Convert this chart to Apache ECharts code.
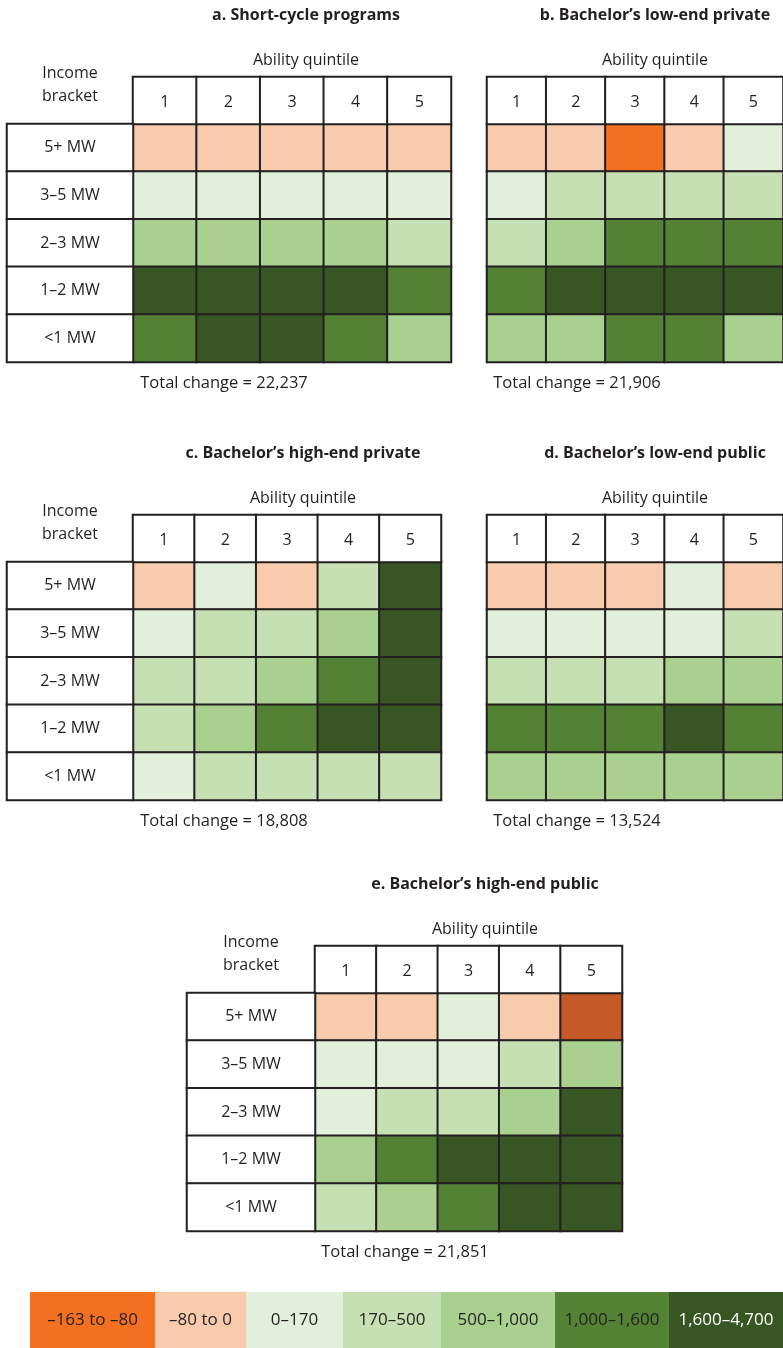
<!DOCTYPE html>
<html>
<head>
<meta charset="utf-8">
<script src="https://cdn.jsdelivr.net/npm/echarts@6/dist/echarts.min.js"></script>
<style>
  html, body { margin: 0; padding: 0; background: #fff; }
  #chart { width: 783px; height: 1348px; }
</style>
</head>
<body>
<div id="chart"></div>
<script>
// ---------- data ----------
const quintiles = ['1', '2', '3', '4', '5'];
const brackets = ['5+ MW', '3–5 MW', '2–3 MW', '1–2 MW', '<1 MW'];

const titles = [
  'a. Short-cycle programs',
  'b. Bachelor’s low-end private',
  'c. Bachelor’s high-end private',
  'd. Bachelor’s low-end public',
  'e. Bachelor’s high-end public'
];
const totals = [22237, 21906, 18808, 13524, 21851];

// rows: 5+ MW, 3–5, 2–3, 1–2, <1 ; columns: ability quintile 1..5 (estimated values)
const shortCycle = [
  [-30, -25, -20, -15, -10],
  [120, 110, 100, 90, 60],
  [700, 650, 600, 550, 400],
  [2200, 2000, 1900, 1700, 1200],
  [1300, 1700, 1650, 1100, 600]
];
const lowPrivate = [
  [-40, -35, -120, -20, 50],
  [120, 300, 350, 280, 250],
  [300, 700, 1300, 1250, 1100],
  [1400, 2400, 2600, 2100, 1900],
  [800, 700, 1200, 1100, 600]
];
const highPrivate = [
  [-30, 60, -20, 250, 1900],
  [100, 300, 400, 800, 2100],
  [350, 300, 700, 1400, 2300],
  [300, 650, 1300, 2000, 2500],
  [110, 250, 280, 300, 260]
];
const lowPublic = [
  [-40, -30, -25, 40, -10],
  [90, 110, 120, 140, 200],
  [250, 300, 320, 600, 650],
  [1100, 1200, 1300, 1700, 1150],
  [600, 650, 700, 750, 700]
];
const highPublic = [
  [-50, -40, 30, -30, -180],
  [80, 90, 100, 250, 600],
  [120, 300, 350, 700, 2000],
  [800, 1300, 1800, 2400, 2800],
  [300, 700, 1200, 2200, 2600]
];
const panelValues = [shortCycle, lowPrivate, highPrivate, lowPublic, highPublic];

const legendLabels = ['–163 to –80', '–80 to 0', '0–170', '170–500', '500–1,000', '1,000–1,600', '1,600–4,700'];
const binEdges = [-163, -80, 0, 170, 500, 1000, 1600, 4700];

// ---------- styles / layout ----------
const binColors = ['#F37021', '#F8CBAD', '#E2EFDA', '#C6E0B4', '#A9D08E', '#548235', '#375623'];
const belowColor = '#C55A28';
const lineColor = '#231F20';
const textColor = '#231F20';
const FONT = "'Open Sans', sans-serif";

const layout = [
  { x0: 133, w: 318, y0: 77,  label: { left: 7,   w: 126 }, cx: 306, tx: 224 },
  { x0: 487, w: 305, y0: 77,  label: null,                   cx: 655, tx: 577 },
  { x0: 133, w: 308, y0: 515, label: { left: 7,   w: 126 }, cx: 303, tx: 224 },
  { x0: 487, w: 305, y0: 515, label: null,                   cx: 655, tx: 577 },
  { x0: 315, w: 307, y0: 946, label: { left: 187, w: 128 }, cx: 485, tx: 405 }
];
const HEAD_H = 47;
const GRID_H = 238;
const legendX = [30, 155, 246, 343, 441, 555, 669, 783];
const legendY = 1292, legendH = 56;

// ---------- build option ----------
const grids = [], xAxes = [], yAxes = [], series = [], graphic = [], mainIdx = [];
const border = { borderColor: lineColor, borderWidth: 2 };

function addGrid(left, top, width, height, xData, yData) {
  const gi = grids.length;
  grids.push({ left, top, width, height, containLabel: false });
  xAxes.push({ type: 'category', gridIndex: gi, data: xData, show: false });
  yAxes.push({ type: 'category', gridIndex: gi, data: yData, inverse: true, show: false });
  return gi;
}
function txt(text, x, y, size, weight) {
  graphic.push({
    type: 'text', x, y, silent: true,
    style: { text, fill: textColor, font: `${weight || 'normal'} ${size}px ${FONT}`,
             textAlign: 'center', textVerticalAlign: 'middle' }
  });
}

panelValues.forEach((vals, p) => {
  const L = layout[p];
  // main cells
  let gi = addGrid(L.x0, L.y0 + HEAD_H, L.w, GRID_H, quintiles, brackets);
  const data = [];
  vals.forEach((row, r) => row.forEach((v, c) => data.push([c, r, v])));
  mainIdx.push(series.length);
  series.push({
    type: 'heatmap', xAxisIndex: gi, yAxisIndex: gi, data,
    itemStyle: border, emphasis: { disabled: true }
  });
  // header row with quintile numbers
  gi = addGrid(L.x0, L.y0, L.w, HEAD_H, quintiles, ['h']);
  series.push({
    type: 'heatmap', xAxisIndex: gi, yAxisIndex: gi,
    data: quintiles.map((q, i) => [i, 0, 0]),
    itemStyle: Object.assign({ color: '#fff' }, border),
    label: { show: true, formatter: (d) => quintiles[d.value[0]], color: textColor, fontSize: 16, fontFamily: FONT, offset: [0, 2] },
    emphasis: { disabled: true }
  });
  // row labels
  if (L.label) {
    gi = addGrid(L.label.left, L.y0 + HEAD_H, L.label.w, GRID_H, ['b'], brackets);
    series.push({
      type: 'heatmap', xAxisIndex: gi, yAxisIndex: gi,
      data: brackets.map((b, i) => [0, i, 0]),
      itemStyle: Object.assign({ color: '#fff' }, border),
      label: { show: true, formatter: (d) => brackets[d.value[1]], color: textColor, fontSize: 16, fontFamily: FONT },
      emphasis: { disabled: true }
    });
    const lc = L.label.left + L.label.w / 2;
    txt('Income', lc, L.y0 - 4, 16);
    txt('bracket', lc, L.y0 + 19, 16);
  }
  txt(titles[p], L.cx, L.y0 - 62, 16, 'bold');
  txt('Ability quintile', L.cx, L.y0 - 17, 16);
  txt('Total change = ' + totals[p].toLocaleString('en-US'), L.tx, L.y0 + HEAD_H + GRID_H + 21, 16.5);
});

// legend key
legendLabels.forEach((lab, i) => {
  graphic.push({
    type: 'rect', silent: true,
    shape: { x: legendX[i], y: legendY, width: legendX[i + 1] - legendX[i], height: legendH },
    style: { fill: binColors[i] }
  });
  graphic.push({
    type: 'text', silent: true,
    x: (legendX[i] + legendX[i + 1]) / 2, y: legendY + 28,
    style: { text: lab, fill: i === 6 ? '#ffffff' : textColor, font: `17px ${FONT}`,
             textAlign: 'center', textVerticalAlign: 'middle' }
  });
});

const pieces = [{ lt: binEdges[0], color: belowColor }];
for (let i = 0; i < binColors.length; i++) {
  const pc = { gte: binEdges[i], color: binColors[i] };
  if (i < binColors.length - 1) pc.lt = binEdges[i + 1];
  pieces.push(pc);
}

const option = {
  animation: false,
  backgroundColor: '#ffffff',
  grid: grids, xAxis: xAxes, yAxis: yAxes, series,
  visualMap: { type: 'piecewise', show: false, dimension: 2, seriesIndex: mainIdx, pieces },
  graphic
};

const chart = echarts.init(document.getElementById('chart'), null, { renderer: 'canvas' });
chart.setOption(option);
</script>
</body>
</html>
